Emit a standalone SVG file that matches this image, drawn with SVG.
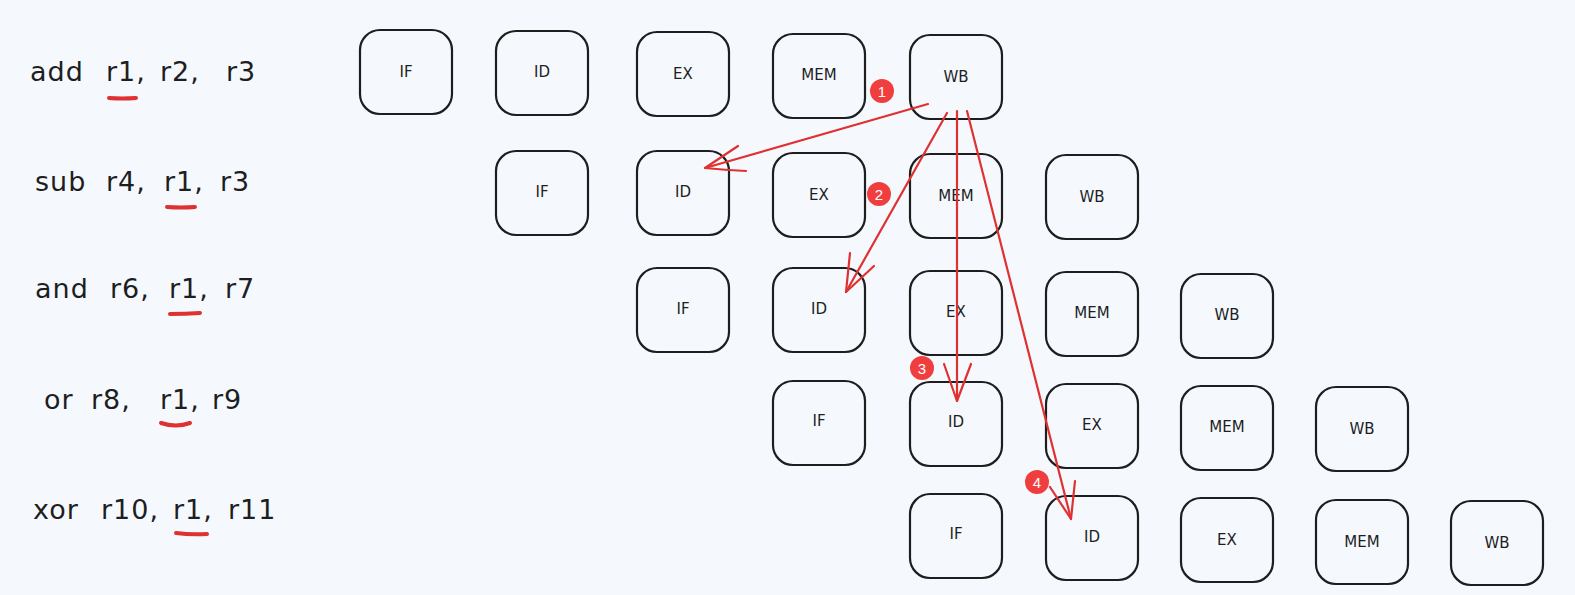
<svg xmlns="http://www.w3.org/2000/svg" width="1575" height="595" viewBox="0 0 1575 595">
<defs>
<style>
.bg{fill:#f5f9fe}
.box rect{fill:#f5f9fe;stroke:#1e1e1e;stroke-width:2.2}
.box text{font-family:"DejaVu Sans","Liberation Sans",sans-serif;font-size:15px;fill:#1e1e1e;text-anchor:middle;dominant-baseline:central}
.instr{font-family:"DejaVu Sans","Liberation Sans",sans-serif;font-size:27px;fill:#1e1e1e;letter-spacing:1px}
.ul{stroke:#e03131;stroke-width:4;stroke-linecap:round;fill:none}
.conn path{stroke:#e03131;stroke-width:2.2;fill:none;stroke-linecap:round;stroke-linejoin:round}
.badge circle{fill:#f03e3e}
.badge text{font-family:"Liberation Sans",Arial,sans-serif;font-size:15px;fill:#ffffff;text-anchor:middle;dominant-baseline:central}
</style>
</defs>
<rect class="bg" x="0" y="0" width="1575" height="595"/>

<g id="instructions">
<text class="instr" y="81"><tspan x="30">add</tspan><tspan x="106">r1,</tspan><tspan x="160">r2,</tspan><tspan x="226">r3</tspan></text>
<text class="instr" y="191"><tspan x="35">sub</tspan><tspan x="106">r4,</tspan><tspan x="164">r1,</tspan><tspan x="220">r3</tspan></text>
<text class="instr" y="298"><tspan x="35">and</tspan><tspan x="110">r6,</tspan><tspan x="169">r1,</tspan><tspan x="225">r7</tspan></text>
<text class="instr" y="409"><tspan x="44">or</tspan><tspan x="91">r8,</tspan><tspan x="160">r1,</tspan><tspan x="212">r9</tspan></text>
<text class="instr" y="519"><tspan x="33">xor</tspan><tspan x="101">r10,</tspan><tspan x="173">r1,</tspan><tspan x="228">r11</tspan></text>
<path class="ul" d="M109 98 Q122 99 136 98"/>
<path class="ul" d="M167 207 Q181 208 195 207"/>
<path class="ul" d="M170 314 Q185 314 200 313"/>
<path class="ul" d="M161 423 Q176 428 190 423"/>
<path class="ul" d="M176 533 Q191 535 207 534"/>
</g>

<g id="row1">
<g id="r1-if" class="box"><rect x="360" y="30" width="92" height="84" rx="20"/><text x="406" y="72">IF</text></g>
<g id="r1-id" class="box"><rect x="496" y="31" width="92" height="84" rx="20"/><text x="542" y="72">ID</text></g>
<g id="r1-ex" class="box"><rect x="637" y="32" width="92" height="84" rx="20"/><text x="683" y="74">EX</text></g>
<g id="r1-mem" class="box"><rect x="773" y="34" width="92" height="84" rx="20"/><text x="819" y="75">MEM</text></g>
<g id="r1-wb" class="box"><rect x="910" y="35" width="92" height="84" rx="20"/><text x="956" y="77">WB</text></g>
</g>
<g id="row2">
<g id="r2-if" class="box"><rect x="496" y="151" width="92" height="84" rx="20"/><text x="542" y="192">IF</text></g>
<g id="r2-id" class="box"><rect x="637" y="151" width="92" height="84" rx="20"/><text x="683" y="192">ID</text></g>
<g id="r2-ex" class="box"><rect x="773" y="153" width="92" height="84" rx="20"/><text x="819" y="195">EX</text></g>
<g id="r2-mem" class="box"><rect x="910" y="154" width="92" height="84" rx="20"/><text x="956" y="196">MEM</text></g>
<g id="r2-wb" class="box"><rect x="1046" y="155" width="92" height="84" rx="20"/><text x="1092" y="197">WB</text></g>
</g>
<g id="row3">
<g id="r3-if" class="box"><rect x="637" y="268" width="92" height="84" rx="20"/><text x="683" y="309">IF</text></g>
<g id="r3-id" class="box"><rect x="773" y="268" width="92" height="84" rx="20"/><text x="819" y="309">ID</text></g>
<g id="r3-ex" class="box"><rect x="910" y="271" width="92" height="84" rx="20"/><text x="956" y="312">EX</text></g>
<g id="r3-mem" class="box"><rect x="1046" y="272" width="92" height="84" rx="20"/><text x="1092" y="313">MEM</text></g>
<g id="r3-wb" class="box"><rect x="1181" y="274" width="92" height="84" rx="20"/><text x="1227" y="315">WB</text></g>
</g>
<g id="row4">
<g id="r4-if" class="box"><rect x="773" y="381" width="92" height="84" rx="20"/><text x="819" y="421">IF</text></g>
<g id="r4-id" class="box"><rect x="910" y="382" width="92" height="84" rx="20"/><text x="956" y="422">ID</text></g>
<g id="r4-ex" class="box"><rect x="1046" y="384" width="92" height="84" rx="20"/><text x="1092" y="425">EX</text></g>
<g id="r4-mem" class="box"><rect x="1181" y="386" width="92" height="84" rx="20"/><text x="1227" y="427">MEM</text></g>
<g id="r4-wb" class="box"><rect x="1316" y="387" width="92" height="84" rx="20"/><text x="1362" y="429">WB</text></g>
</g>
<g id="row5">
<g id="r5-if" class="box"><rect x="910" y="494" width="92" height="84" rx="20"/><text x="956" y="534">IF</text></g>
<g id="r5-id" class="box"><rect x="1046" y="496" width="92" height="84" rx="20"/><text x="1092" y="537">ID</text></g>
<g id="r5-ex" class="box"><rect x="1181" y="498" width="92" height="84" rx="20"/><text x="1227" y="540">EX</text></g>
<g id="r5-mem" class="box"><rect x="1316" y="500" width="92" height="84" rx="20"/><text x="1362" y="542">MEM</text></g>
<g id="r5-wb" class="box"><rect x="1451" y="501" width="92" height="84" rx="20"/><text x="1497" y="543">WB</text></g>
</g>

<g id="connectors" class="conn">
<path d="M928 104 L705 168"/>
<path d="M738 146 L705 168 Q725 170 746 171"/>
<path d="M947 113 L846 292"/>
<path d="M850 253 L846 292 L874 266"/>
<path d="M957 111 L957 401"/>
<path d="M944 364 L957 401 L971 364"/>
<path d="M967 111 L1071 519"/>
<path d="M1050 487 L1071 519 L1075 481"/>
</g>

<g id="badges">
<g id="badge1" class="badge"><circle cx="882" cy="91" r="12"/><text x="882" y="91">1</text></g>
<g id="badge2" class="badge"><circle cx="879" cy="194" r="12"/><text x="879" y="194">2</text></g>
<g id="badge3" class="badge"><circle cx="922" cy="368" r="12"/><text x="922" y="368">3</text></g>
<g id="badge4" class="badge"><circle cx="1037" cy="482" r="12"/><text x="1037" y="482">4</text></g>
</g>
</svg>
